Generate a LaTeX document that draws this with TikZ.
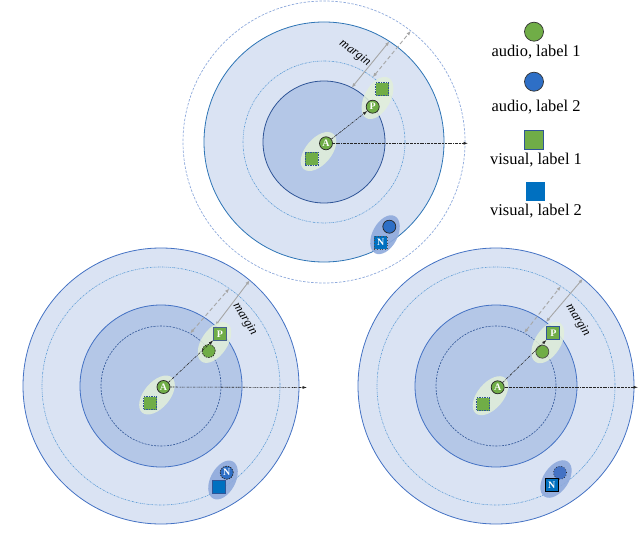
\documentclass[tikz,border=0pt]{standalone}
\usepackage{fontspec}
\setmainfont{Liberation Serif}
\usetikzlibrary{shapes.geometric,arrows.meta,calc}
\definecolor{lightring}{HTML}{DAE3F3}
\definecolor{midring}{HTML}{B4C7E7}
\definecolor{ringline}{HTML}{4472C4}
\definecolor{brightline}{HTML}{2E75B6}
\definecolor{darkblue}{HTML}{2F5597}
\definecolor{dotblue}{HTML}{5B9BD5}
\definecolor{paleblue}{HTML}{8FAADC}
\definecolor{grn}{HTML}{70AD47}
\definecolor{paleg}{HTML}{E2EFDA}
\definecolor{sqblue}{HTML}{0070C0}
\definecolor{cblue}{HTML}{2E6FC6}
\definecolor{nell}{HTML}{8FAADC}
\definecolor{margc}{HTML}{A6A6A6}
\begin{document}
\begin{tikzpicture}[x=1bp,y=-1bp,
  ring/.style={draw=ringline, line width=0.8bp, fill=lightring},
  core/.style={draw=ringline, line width=0.8bp, fill=midring},
  dotcirc/.style={draw=dotblue, line width=0.6bp, dash pattern=on 1.6bp off 0.9bp on 0.5bp off 0.9bp},
  dashcirc/.style={draw=darkblue, line width=0.6bp, dash pattern=on 2bp off 1.2bp},
  outerdash/.style={draw=paleblue, line width=0.7bp, dash pattern=on 2.5bp off 1.5bp},
  sym/.style={inner sep=0pt, minimum size=13bp, text=white, font=\bfseries\fontsize{10}{10}\selectfont},
  gcirc/.style={sym, circle, fill=grn, draw=black!85, line width=0.7bp},
  bcirc/.style={sym, circle, fill=cblue, draw=black!85, line width=0.7bp},
  gsq/.style={sym, rectangle, fill=grn, draw=darkblue, line width=0.7bp},
  bsq/.style={sym, rectangle, fill=sqblue, draw=darkblue, line width=0.7bp},
  dsh/.style={dash pattern=on 1.5bp off 1bp},
  pairg/.style={ellipse, fill=paleg, fill opacity=0.85, minimum width=46bp, minimum height=26bp, inner sep=0pt},
  pairb/.style={ellipse, fill=nell, fill opacity=0.9, minimum width=42bp, minimum height=25bp, inner sep=0pt},
  marg/.style={draw=margc, line width=0.9bp, {Latex[length=4.5bp,width=3.5bp]}-{Latex[length=4.5bp,width=3.5bp]}},
  margd/.style={marg, dash pattern=on 4bp off 2.5bp},
  ptr/.style={draw=black!85, line width=0.6bp, -{Latex[length=4.5bp,width=3bp]}, dash pattern=on 2.5bp off 1bp on 0.6bp off 1bp},
  hor/.style={draw=black!85, line width=0.6bp, -{Latex[length=4.5bp,width=3bp]}, dash pattern=on 2bp off 0.8bp on 0.6bp off 0.8bp on 0.6bp off 0.8bp},
  mtext/.style={font=\itshape\fontsize{12.5}{12.5}\selectfont, inner sep=0pt},
  legtext/.style={font=\fontsize{16.5}{16.5}\selectfont, inner sep=0pt}
]
\useasboundingbox (0,0) rectangle (640,545);

% ================= TOP DIAGRAM =================
\coordinate (c1) at (324,142);
\draw[outerdash, fill=white] (c1) circle (141);
\draw[ring, draw=brightline] (c1) circle (120);
\draw[dotcirc] (c1) circle (81);
\draw[core, draw=darkblue] (c1) circle (61);
\coordinate (t1ms) at ($(c1)+(-63:61)$);
\coordinate (t1me) at ($(c1)+(-57:120)$);
\coordinate (t1ds) at ($(c1)+(-53:81)$);
\coordinate (t1de) at ($(c1)+(-52:141)$);
\draw[marg] (t1ms) -- (t1me);
\draw[margd] (t1ds) -- (t1de);
\node[mtext, rotate=-36] (t1mt) at (355,53) {margin};
\node[pairg, rotate=50] (t1ea) at (318.5,151.5) {};
\node[pairg, rotate=61] (t1ep) at (377.5,98) {};
\node[pairb, rotate=62] (t1en) at (385,234.7) {};
\node[gsq, dsh] (t1va) at (311.7,159) {};
\node[gsq, dsh] (t1vp) at (382.3,89.3) {};
\node[gcirc] (t1a) at (326,143.3) {A};
\node[gcirc] (t1p) at (372.7,106.7) {P};
\node[bcirc] (t1nc) at (389.3,226.7) {};
\node[bsq, dotted, draw=black!70] (t1n) at (380.7,242.7) {N};
\coordinate (t1x) at (468,143.3);
\draw[ptr] (t1a) -- (t1p);
\draw[hor] (t1a) -- (t1x);

% ================= BOTTOM-LEFT DIAGRAM =================
\coordinate (c2) at (161,386);
\draw[ring] (c2) circle (138);
\draw[dotcirc] (c2) circle (119);
\draw[core] (c2) circle (81);
\draw[dashcirc] (c2) circle (60);
\coordinate (b1ms) at ($(c2)+(-48:81)$);
\coordinate (b1me) at ($(c2)+(-50:138)$);
\coordinate (b1ds) at ($(c2)+(-61:60)$);
\coordinate (b1de) at ($(c2)+(-55:119)$);
\draw[marg] (b1ms) -- (b1me);
\draw[margd] (b1ds) -- (b1de);
\node[mtext, rotate=-58] (b1mt) at (245,319) {margin};
\node[pairg, rotate=50] (b1ea) at (157,395) {};
\node[pairg, rotate=56] (b1ep) at (214.5,342.5) {};
\node[pairb, rotate=62] (b1en) at (223,480) {};
\node[gsq, dsh] (b1va) at (150.3,403.3) {};
\node[gcirc, dsh] (b1ap) at (208.7,351) {};
\node[gsq, draw=darkblue!70!gray] (b1p) at (220,334) {P};
\node[gcirc] (b1a) at (163.5,387) {A};
\node[bcirc, dsh] (b1n) at (226.7,472.7) {N};
\node[bsq] (b1vn) at (219,487.3) {};
\coordinate (b1x) at (307,387.5);
\draw[ptr] (b1a) -- (b1p);
\draw[hor] (b1a) -- (b1x);

% ================= BOTTOM-RIGHT DIAGRAM =================
\coordinate (c3) at (496,386);
\draw[ring] (c3) circle (138);
\draw[dotcirc] (c3) circle (119);
\draw[core] (c3) circle (81);
\draw[dashcirc] (c3) circle (60);
\coordinate (b2ms) at ($(c3)+(-52:81)$);
\coordinate (b2me) at ($(c3)+(-51:138)$);
\coordinate (b2ds) at ($(c3)+(-62:60)$);
\coordinate (b2de) at ($(c3)+(-57:119)$);
\draw[marg] (b2ms) -- (b2me);
\draw[margd] (b2ds) -- (b2de);
\node[mtext, rotate=-58] (b2mt) at (578,320) {margin};
\node[pairg, rotate=50] (b2ea) at (490.5,395.7) {};
\node[pairg, rotate=58] (b2ep) at (547.8,342.5) {};
\node[pairb, rotate=56] (b2en) at (556,479) {};
\node[gsq, dsh] (b2va) at (483.3,404) {};
\node[gcirc, draw=black!70] (b2ap) at (542.3,351.7) {};
\node[gsq] (b2p) at (553.3,333.3) {P};
\node[gcirc] (b2a) at (497.7,387.3) {A};
\node[bcirc, dotted, fill=ringline] (b2nc) at (560,472.7) {};
\node[bsq, draw=black] (b2n) at (551.7,485) {N};
\coordinate (b2x) at (638,387.3);
\draw[ptr] (b2a) -- (b2p);
\draw[hor] (b2a) -- (b2x);

% ================= LEGEND =================
\node[circle, fill=grn, draw=black!80, line width=0.7bp, minimum size=19bp, inner sep=0pt] (l1) at (534,31.7) {};
\node[legtext] (l1t) at (536,52) {audio, label 1};
\node[circle, fill=cblue, draw=black!80, line width=0.7bp, minimum size=19bp, inner sep=0pt] (l2) at (534,81.7) {};
\node[legtext] (l2t) at (536,107.5) {audio, label 2};
\node[rectangle, fill=grn, draw=darkblue, line width=0.6bp, minimum size=19bp, inner sep=0pt] (l3) at (533.3,140) {};
\node[legtext] (l3t) at (536,160.5) {visual, label 1};
\node[rectangle, fill=sqblue, minimum size=19bp, inner sep=0pt] (l4) at (535,191.7) {};
\node[legtext] (l4t) at (536,211) {visual, label 2};
\end{tikzpicture}
\end{document}
